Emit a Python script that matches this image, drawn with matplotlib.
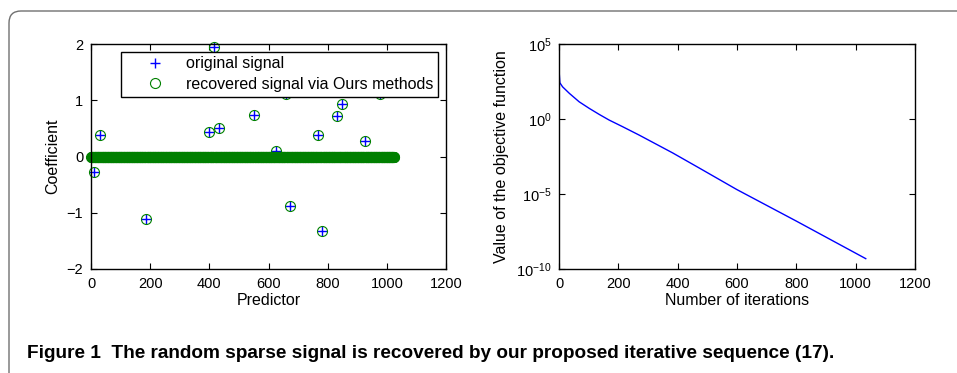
import numpy as np
import matplotlib
matplotlib.use("Agg")
import matplotlib.pyplot as plt
from matplotlib.patches import FancyBboxPatch

plt.rcParams["font.family"] = ["Liberation Sans", "DejaVu Sans"]
plt.rcParams["mathtext.fontset"] = "custom"
plt.rcParams["mathtext.rm"] = "Liberation Sans"
plt.rcParams["mathtext.it"] = "Liberation Sans"

# left panel: sparse signal (length 1024, nonzero entries)
signal_length = 1024
spike_index = [10, 30, 184, 397, 416, 433, 551, 625, 657, 670, 767, 779, 832, 848, 926, 975]
original_values = [-0.28, 0.38, -1.11, 0.43, 1.95, 0.51, 0.74, 0.09, 1.11, -0.88,
                   0.39, -1.33, 0.72, 0.94, 0.28, 1.11]
recovered_values = [-0.28, 0.38, -1.11, 0.43, 1.95, 0.51, 0.74, 0.09, 1.11, -0.88,
                    0.39, -1.33, 0.72, 0.94, 0.28, 1.11]

# right panel: objective value vs iteration
iterations = [1, 3, 12, 35, 68, 102, 136, 169, 214, 270, 383, 472, 599, 799, 1034]
objective = [1.0e3, 2.6e2, 1.4e2, 5.1e1, 1.4e1, 5.1, 2.0, 8.5e-1, 3.1e-1, 8.5e-2,
             5.5e-3, 5.5e-4, 2.0e-5, 1.6e-7, 4.9e-10]

caption = "Figure 1  The random sparse signal is recovered by our proposed iterative sequence (17)."

x0 = np.zeros(signal_length)
x0[spike_index] = original_values
xr = np.zeros(signal_length)
xr[spike_index] = recovered_values
idx = np.arange(1, signal_length + 1)

fig = plt.figure(figsize=(9.57, 3.73), dpi=100)

# rounded frame around the figure (only top/left edges fall inside the image)
frame = FancyBboxPatch((9, -60), 1100, 373 - 11 + 60,
                       boxstyle="round,pad=0,rounding_size=12",
                       transform=None, facecolor="none",
                       edgecolor="#707070", linewidth=1.0)
fig.patches.append(frame)


def style(ax):
    ax.tick_params(direction="in", top=True, right=True, length=4, width=0.8,
                   labelsize=10.5, pad=5.5)
    for s in ax.spines.values():
        s.set_linewidth(1.0)


ax1 = fig.add_axes([91 / 957, 104 / 373, 355 / 957, 225 / 373])
ax1.plot(idx, x0, "+", color="blue", markersize=6.5, markeredgewidth=1.0,
         label="original signal", clip_on=False)
ax1.plot(idx, xr, "o", color="#008000", markerfacecolor="none", markersize=7.2,
         markeredgewidth=0.8, label="recovered signal via Ours methods", clip_on=False)
ax1.set_xlim(0, 1200)
ax1.set_ylim(-2, 2)
ax1.set_xticks(range(0, 1201, 200))
ax1.set_yticks([-2, -1, 0, 1, 2])
ax1.set_xlabel("Predictor", fontsize=11.5, labelpad=2)
ax1.set_ylabel("Coefficient", fontsize=11.5, labelpad=5)
style(ax1)
leg = ax1.legend(loc="upper right", bbox_to_anchor=(0.978, 0.966), fontsize=11.5,
                 frameon=True, fancybox=False, edgecolor="black", framealpha=1,
                 borderpad=0.3, labelspacing=0.35, handlelength=3.7,
                 handletextpad=0.1, borderaxespad=0)
leg.get_frame().set_linewidth(1.0)
leg.set_zorder(5)

ax2 = fig.add_axes([559 / 957, 104 / 373, 356 / 957, 225 / 373])
ax2.semilogy(iterations, objective, color="blue", linewidth=1.0)
ax2.set_xlim(0, 1200)
ax2.set_ylim(1e-10, 1e5)
ax2.set_xticks(range(0, 1201, 200))
ax2.set_yticks([1e-10, 1e-5, 1e0, 1e5])
ax2.minorticks_off()
ax2.set_xlabel("Number of iterations", fontsize=11.5, labelpad=2)
ax2.set_ylabel("Value of the objective function", fontsize=11.5, labelpad=5)
style(ax2)

fig.text(27 / 957, (373 - 354) / 373, caption, fontsize=13.7, fontweight="bold",
         ha="left", va="center")

fig.savefig("out.png", dpi=100)
